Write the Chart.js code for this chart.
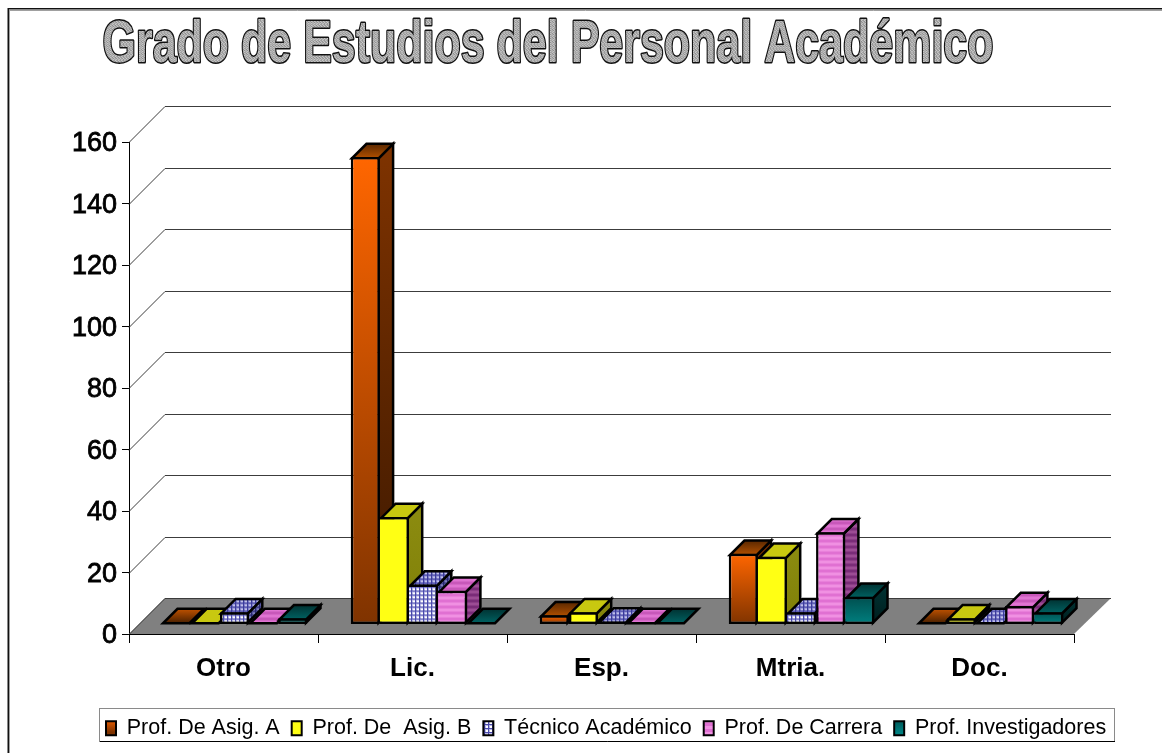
<!DOCTYPE html>
<html><head><meta charset="utf-8">
<style>html,body{margin:0;padding:0;background:#fff}canvas{display:block}</style>
<script src="https://cdn.jsdelivr.net/npm/chart.js@4"></script>
</head><body><canvas id="c" width="1162" height="753"></canvas>
<script>
const chartTitle = "Grado de Estudios del Personal Académico";
const categories = ["Otro", "Lic.", "Esp.", "Mtria.", "Doc."];
const seriesNames = ["Prof. De Asig. A", "Prof. De  Asig. B", "Técnico Académico", "Prof. De Carrera", "Prof. Investigadores"];
const profAsigA = [0, 152, 3, 23, 0];
const profAsigB = [0, 35, 4, 22, 2];
const tecnico = [4, 13, 1, 4, 0];
const profCarrera = [0, 11, 0, 30, 6];
const profInvest = [2, 0, 0, 9, 4];
const allSeries = [profAsigA, profAsigB, tecnico, profCarrera, profInvest];

const FRONT_X = 11, FRONT_Y = 9.5, BAR_DEPTH = 14.5, WALL_DEPTH = 36, EDGE = 2.5;
const ctx = document.getElementById('c').getContext('2d');

function tile(w, h, paint) {
  const c = document.createElement('canvas'); c.width = w; c.height = h;
  paint(c.getContext('2d')); return ctx.createPattern(c, 'repeat');
}
function gridTile(bg, soft, line) {
  return tile(4, 4, g => {
    g.fillStyle = bg; g.fillRect(0,0,4,4);
    g.fillStyle = soft; g.fillRect(0,1,4,1); g.fillRect(1,0,1,4);
    g.fillStyle = line; g.fillRect(0,0,4,1); g.fillRect(0,0,1,4);
  });
}
function stripeTile(a, b) {
  return tile(6, 6, g => { g.fillStyle = a; g.fillRect(0,0,6,3); g.fillStyle = b; g.fillRect(0,3,6,3); });
}
const titleTexture = tile(4, 4, g => {
  const tones = ['#b0b0b0','#949494','#cccccc','#a0a0a0','#c0c0c0','#a4a4a4','#8c8c8c','#c4c4c4','#9c9c9c','#d0d0d0','#a8a8a8','#909090','#b8b8b8','#989898','#b4b4b4','#c8c8c8'];
  tones.forEach((t,i) => { g.fillStyle = t; g.fillRect(i%4, i>>2, 1, 1); });
});
const faces = [
  {front:['#ff6600','#7f3300'], side:['#7f3300','#3c1800'], top:['#5a2800','#b25000'], flat:['#c05200','#4a2000']},
  {front:['#ffff14','#ffff14'], side:['#8c8c10','#808008'], top:['#c8c810','#c8c810']},
  {front:gridTile('#ffffff','#b8b8e6','#4a4aac'), side:gridTile('#8080bc','#5858a0','#282870'), top:gridTile('#c0c0ea','#8484cc','#3a3a9c')},
  {front:stripeTile('#f090e2','#e070d2'), side:stripeTile('#9c4c94','#7a2c78'), top:stripeTile('#e074d2','#c858ba')},
  {front:['#004f4f','#008080'], side:['#003434','#001e1e'], top:['#003232','#006262']}
];
function faceFill(spec, y0, y1) {
  if (!Array.isArray(spec)) return spec;
  const g = ctx.createLinearGradient(0, y0, 0, y1);
  g.addColorStop(0, spec[0]); g.addColorStop(1, spec[1]); return g;
}
function poly(c, pts, fill) {
  c.beginPath(); pts.forEach((p,i) => i ? c.lineTo(p[0],p[1]) : c.moveTo(p[0],p[1])); c.closePath();
  c.fillStyle = fill; c.fill(); c.lineWidth = EDGE; c.strokeStyle = '#000'; c.lineJoin = 'miter'; c.stroke();
}

const scene = {
  id: 'scene',
  afterLayout(chart) {
    const l = chart.legend;
    l.left = 94; l.right = 1400; l.top = 705.5;
    const y = chart.scales.y;
    if (!y._shifted) {
      y._shifted = true;
      const orig = y._computeLabelItems;
      y._computeLabelItems = function (area) {
        return orig.call(this, area).map(it => { it.options.translation[1] += 2; return it; });
      };
    }
  },
  beforeDraw(chart) {
    const c = chart.ctx;
    c.save();
    c.fillStyle = '#fff'; c.fillRect(0,0,chart.width,chart.height);
    c.strokeStyle = '#a0a0a0'; c.lineWidth = 1;
    c.beginPath(); c.moveTo(9,10.5); c.lineTo(1162,10.5); c.moveTo(9.5,10); c.lineTo(9.5,753); c.stroke();
    c.strokeStyle = '#111'; c.lineWidth = 1.5;
    c.beginPath(); c.moveTo(8,8.75); c.lineTo(1162,8.75); c.moveTo(8.25,8); c.lineTo(8.25,753); c.stroke();
    c.strokeStyle = '#8a8a8a'; c.lineWidth = 1; c.strokeRect(99.5,708.5,1015,33);
    c.strokeStyle = '#000';
    c.beginPath(); c.moveTo(100,741.5); c.lineTo(1115,741.5); c.stroke();
    // WordArt title
    const text = chart.options.plugins.title.text;
    c.font = 'bold 59px "Liberation Sans"'; c.textBaseline = 'alphabetic'; c.textAlign = 'left';
    c.lineJoin = 'round';
    c.strokeStyle = '#111'; c.lineWidth = 3;
    c.strokeText(text, 102.5, 61.5, 891);
    c.fillStyle = titleTexture;
    c.fillText(text, 102.5, 61.5, 891);
    c.restore();
  },
  beforeDatasetsDraw(chart) {
    const c = chart.ctx, x = chart.scales.x, y = chart.scales.y;
    const L = x.left, R = x.right, B = y.getPixelForValue(0), D = WALL_DEPTH;
    c.save();
    c.beginPath(); c.moveTo(L,B); c.lineTo(R,B); c.lineTo(R+D+1,B-D); c.lineTo(L+D,B-D); c.closePath();
    c.fillStyle = '#808080'; c.fill();
    c.lineWidth = 1;
    y.ticks.forEach(t => {
      const p = Math.round(y.getPixelForValue(t.value)) + 0.5;
      c.strokeStyle = '#3c3c3c';
      c.beginPath(); c.moveTo(L,p); c.lineTo(L+D,p-D); c.lineTo(R+D+1,p-D); c.stroke();
    });
    c.strokeStyle = '#000';
    c.beginPath(); c.moveTo(L,B+0.5); c.lineTo(R,B+0.5); c.stroke();
    c.restore();
  },
  // The series overlap in depth, so they are painted left to right here.
  beforeDatasetDraw() { return false; },
  afterDatasetsDraw(chart) {
    const c = chart.ctx, d = BAR_DEPTH, e = EDGE / 2;
    faces.forEach((f, i) => {
      const meta = chart.getDatasetMeta(i);
      c.save();
      c.translate(FRONT_X, -FRONT_Y);
      meta.data.forEach(bar => {
        const l = bar.x - bar.width/2 + e, r = bar.x + bar.width/2 - e;
        const flat = bar.base - bar.y < 1;
        const t = flat ? bar.base - e : bar.y + e, b = bar.base - e;
        if (!flat) poly(c, [[r,t],[r+d,t-d],[r+d,b-d],[r,b]], faceFill(f.side, t-d, b));
        poly(c, [[l,t],[r,t],[r+d,t-d],[l+d,t-d]], faceFill(flat && f.flat ? f.flat : f.top, t-d, t));
      });
      meta.controller.draw();
      c.restore();
    });
  }
};

const datasets = seriesNames.map((name, i) => ({
  label: name,
  data: allSeries[i],
  backgroundColor(cx) {
    const sc = cx.chart.scales.y;
    if (!sc || cx.raw === undefined) return '#000';
    return faceFill(faces[i].front, sc.getPixelForValue(cx.raw), sc.getPixelForValue(0));
  },
  borderColor: '#000',
  borderSkipped: false,
  inflateAmount: 0,
  borderWidth(cx) {
    const prev = i > 0 ? allSeries[i-1][cx.dataIndex] : -1;
    return {top: EDGE, right: EDGE, bottom: EDGE, left: (prev === undefined || prev < cx.raw) ? EDGE : 0};
  },
  categoryPercentage: 0.77,
  barPercentage: 1
}));

new Chart(ctx, {
  type: 'bar',
  data: {labels: categories, datasets},
  plugins: [scene],
  options: {
    responsive: false, animation: false,
    layout: {padding: {left: 0, right: 88, top: 142, bottom: 0}},
    plugins: {
      tooltip: {enabled: false},
      title: {display: false, text: chartTitle},
      legend: {
        display: true, position: 'bottom', align: 'start',
        labels: {
          boxWidth: 10, boxHeight: 14, padding: 12, color: '#000',
          font: {family: '"Liberation Sans"', size: 21.5},
          generateLabels() {
            return seriesNames.map((n, i) => ({
              text: n, datasetIndex: i, strokeStyle: '#000', lineWidth: 2,
              fontColor: '#000',
              fillStyle: faceFill(faces[i].front, 718, 732)
            }));
          }
        }
      }
    },
    scales: {
      x: {
        offset: true,
        afterFit(s) { s.height = 753 - 634 - (s.chart.legend ? s.chart.legend.height : 0); },
        grid: {display: true, offset: true, drawOnChartArea: false, drawTicks: true, tickLength: 9, color: '#000', lineWidth: 1},
        border: {display: true, color: '#000', width: 1},
        ticks: {color: '#000', padding: 10, maxRotation: 0, font: {family: '"Liberation Sans"', size: 26, weight: 'bold'}}
      },
      y: {
        min: 0, max: 160,
        afterFit(s) { s.width = 129; },
        grid: {display: true, drawOnChartArea: false, drawTicks: true, tickLength: 7, color: '#000', lineWidth: 1},
        border: {display: true, color: '#000', width: 1},
        ticks: {stepSize: 20, color: '#000', padding: 5, textStrokeColor: '#000', textStrokeWidth: 0.8, font: {family: '"Liberation Sans"', size: 27}}
      }
    }
  }
});
</script></body></html>
